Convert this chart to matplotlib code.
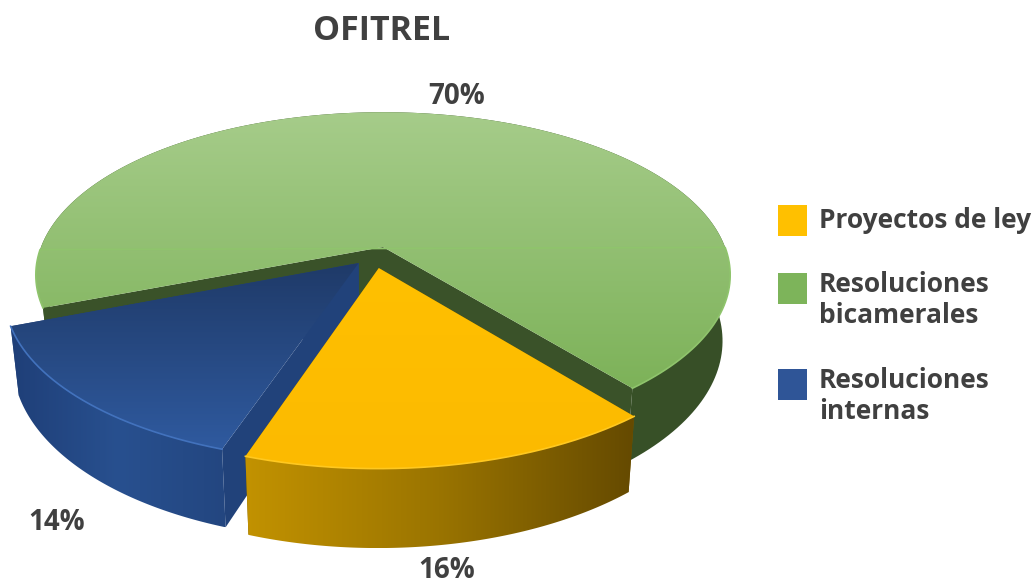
import numpy as np
import matplotlib
matplotlib.use("Agg")
import matplotlib.pyplot as plt
from matplotlib.patches import Polygon, Rectangle

plt.rcParams["font.family"] = ["Open Sans", "DejaVu Sans"]

TITLE = "OFITREL"
CATEGORIES = ["Proyectos de ley", "Resoluciones\nbicamerales", "Resoluciones\ninternas"]
SHARES = [16, 70, 14]
LABELS = ["16%", "70%", "14%"]

INK = "#404040"
SWATCH = ["#ffc000", "#7db45a", "#2f5597"]
# top-face gradient (far -> near), rim gradient (left -> right), cut wall, bevel line
TOP = [["#ffc000", "#fcba00"], ["#a6cc8a", "#7db259"], ["#1f3a68", "#2f5a9f"]]
RIM = [["#c29200", "#9a7400", "#654a00"], ["#3a5429", "#3a5429", "#374f27"],
       ["#1f3f78", "#28508f", "#234680"]]
WALL = ["#7a5a00", "#3a5229", "#21427a"]
BEVEL = ["#ffc820", "#8fc46c", "#4272bd"]

# pie geometry: disc -> screen projection, in pixels
CX, CY = 383, 247
RX, RY, PERSP = 342, 158, 0.172
DEPTH = 64
START = -50.8          # degrees, where the green slice starts going counter-clockwise
# explode offset of each slice, in disc radii
OFFSET = [(-0.012, -0.13), (0.0, 0.0), (-0.07, -0.1)]


def project(u, v, lower=False):
    d = 1 + PERSP * v
    x = CX + RX * u / d
    y = CY - RY * v / d
    if lower:
        x = CX + (x - CX) * 0.978
        y = y + DEPTH / d
    return np.column_stack([np.atleast_1d(x), np.atleast_1d(y)])


def gradient_fill(ax, pts, colors, vertical, zorder):
    patch = Polygon(pts, closed=True, facecolor="none", edgecolor="none", zorder=zorder)
    ax.add_patch(patch)
    cmap = matplotlib.colors.LinearSegmentedColormap.from_list("g", colors)
    ramp = np.linspace(0, 1, 256)
    ramp = ramp[:, None] if vertical else ramp[None, :]
    x0, y0 = pts.min(axis=0)
    x1, y1 = pts.max(axis=0)
    im = ax.imshow(ramp, cmap=cmap, extent=(x0, x1, y1, y0), aspect="auto",
                   origin="upper", zorder=zorder)
    im.set_clip_path(patch)


def draw_slice(ax, a0, a1, color_idx, zorder):
    du, dv = OFFSET[color_idx]
    t = np.radians(np.linspace(a0, a1, 200))
    u, v = np.cos(t) + du, np.sin(t) + dv
    top_arc, low_arc = project(u, v), project(u, v, lower=True)
    apex_top, apex_low = project(du, dv), project(du, dv, lower=True)
    # cut walls
    for i in (0, -1):
        wall = np.vstack([apex_top, top_arc[i], low_arc[i], apex_low])
        ax.add_patch(Polygon(wall, closed=True, facecolor=WALL[color_idx],
                             edgecolor="none", zorder=zorder))
    rim = np.vstack([top_arc, low_arc[::-1]])
    gradient_fill(ax, rim, RIM[color_idx], False, zorder + 0.1)
    top = np.vstack([apex_top, top_arc])
    gradient_fill(ax, top, TOP[color_idx], True, zorder + 0.2)
    # bevel highlight only on the front edge, where the rim shows
    front = np.sin(t) < 0
    ax.plot(top_arc[front, 0], top_arc[front, 1], color=BEVEL[color_idx], lw=1.2,
            zorder=zorder + 0.3)


fig = plt.figure(figsize=(10.32, 5.85), dpi=100)
ax = fig.add_axes([0, 0, 1, 1])

# slice angles follow the shares: green from START, yellow and blue going clockwise
deg = 360 * np.array(SHARES) / sum(SHARES)
draw_slice(ax, START, START + deg[1], 1, 1)
draw_slice(ax, START - deg[0] - deg[2], START - deg[0], 2, 2)
draw_slice(ax, START - deg[0], START, 0, 3)

ax.set_xlim(0, 1032)
ax.set_ylim(585, 0)
ax.axis("off")

ax.text(382, 31, TITLE, ha="center", va="center", fontsize=24.5, fontweight="bold", color=INK)
for (x, y), s in zip([(447, 571), (457, 96), (57, 523)], LABELS):
    ax.text(x, y, s, ha="center", va="center", fontsize=20, fontweight="bold", color=INK)

for sy, ty, c, s in zip([205, 273, 369], [221, 300, 396], SWATCH, CATEGORIES):
    ax.add_patch(Rectangle((778, sy), 29, 31, facecolor=c, edgecolor="none"))
    ax.text(819, ty, s, ha="left", va="center", fontsize=19, fontweight="bold",
            color=INK, linespacing=1.16)

fig.savefig("out.png", dpi=100, facecolor="white")
